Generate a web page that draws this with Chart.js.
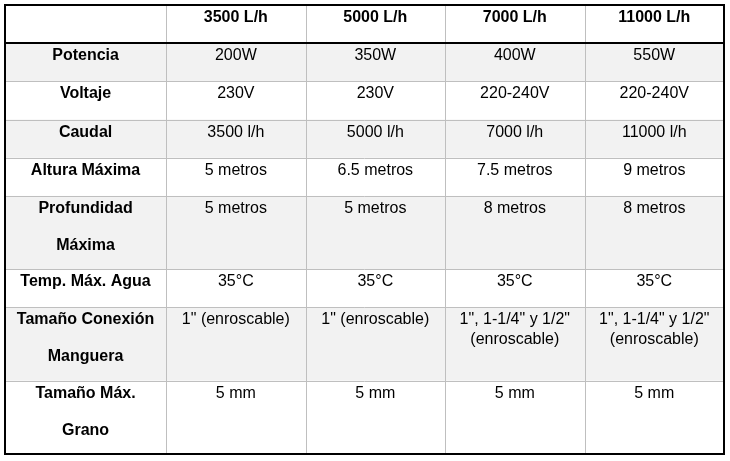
<!DOCTYPE html>
<html>
<head>
<meta charset="utf-8">
<script src="https://cdn.jsdelivr.net/npm/chart.js@4.4.1/dist/chart.umd.min.js"></script>
<style>
  body { margin: 0; background: #fff; }
  canvas { display: block; }
</style>
</head>
<body>
<canvas id="tablaBombas" width="730" height="461"></canvas>
<script>
// Datos de la tabla
const modelos = ["3500 L/h", "5000 L/h", "7000 L/h", "11000 L/h"];
const caracteristicas = [
  "Potencia",
  "Voltaje",
  "Caudal",
  "Altura Máxima",
  "Profundidad Máxima",
  "Temp. Máx. Agua",
  "Tamaño Conexión Manguera",
  "Tamaño Máx. Grano",
];
const bomba3500 = ["200W", "230V", "3500 l/h", "5 metros", "5 metros", "35°C", '1" (enroscable)', "5 mm"];
const bomba5000 = ["350W", "230V", "5000 l/h", "6.5 metros", "5 metros", "35°C", '1" (enroscable)', "5 mm"];
const bomba7000 = ["400W", "220-240V", "7000 l/h", "7.5 metros", "8 metros", "35°C", '1", 1-1/4" y 1/2" (enroscable)', "5 mm"];
const bomba11000 = ["550W", "220-240V", "11000 l/h", "9 metros", "8 metros", "35°C", '1", 1-1/4" y 1/2" (enroscable)', "5 mm"];
const columnas = [bomba3500, bomba5000, bomba7000, bomba11000];

// Layout
const FAMILIA = "'Liberation Sans', Arial, sans-serif";
const FUENTE = "16px " + FAMILIA;
const FUENTE_NEGRITA = "bold 16px " + FAMILIA;
const ANCHO_ETIQUETA = 1.155; // ancho de la primera columna, en unidades de columna
const PADDING = 8;
const ALTO_EXTRA = 0.92; // unidades de fila por cada linea extra de la etiqueta
const SALTO_ETIQUETA = 37;
const SALTO_VALOR = 20;
const BASE = 17;

const canvas = document.getElementById("tablaBombas");
const medir = canvas.getContext("2d");
const pxPorUnidadX = 719 / (ANCHO_ETIQUETA + modelos.length);

function partirTexto(texto, font, ancho) {
  medir.font = font;
  const palabras = texto.split(" ");
  const lineas = [];
  let actual = "";
  palabras.forEach((p) => {
    const prueba = actual ? actual + " " + p : p;
    if (actual && medir.measureText(prueba).width > ancho) {
      lineas.push(actual);
      actual = p;
    } else {
      actual = prueba;
    }
  });
  lineas.push(actual);
  return lineas;
}

const etiquetas = caracteristicas.map((c) =>
  partirTexto(c, FUENTE_NEGRITA, ANCHO_ETIQUETA * pxPorUnidadX - 2 * PADDING)
);

// bordes de filas (unidades del eje y)
const bordesFila = [0, 1];
etiquetas.forEach((l) => {
  bordesFila.push(bordesFila[bordesFila.length - 1] + 1 + (l.length - 1) * ALTO_EXTRA);
});
const bordesColumna = [0];
for (let i = 0; i <= modelos.length; i++) {
  bordesColumna.push(ANCHO_ETIQUETA + i);
}
const yMax = bordesFila[bordesFila.length - 1];
const xMax = bordesColumna[bordesColumna.length - 1];

const tablaPlugin = {
  id: "tabla",
  afterDraw(chart) {
    const { ctx, scales: { x, y } } = chart;
    const px = (v) => x.getPixelForValue(v);
    const py = (v) => y.getPixelForValue(v);
    const izq = px(0), der = px(xMax), arriba = py(0), abajo = py(yMax);

    ctx.save();
    // filas sombreadas
    ctx.fillStyle = "#f2f2f2";
    caracteristicas.forEach((c, i) => {
      if (i % 2 === 0) {
        const t = py(bordesFila[i + 1]);
        const b = py(bordesFila[i + 2]);
        ctx.fillRect(izq, t, der - izq, b - t);
      }
    });

    // lineas grises
    ctx.strokeStyle = "#bfbfbf";
    ctx.lineWidth = 1;
    ctx.beginPath();
    for (let i = 1; i < bordesColumna.length - 1; i++) {
      const xx = Math.round(px(bordesColumna[i])) + 0.5;
      ctx.moveTo(xx, arriba);
      ctx.lineTo(xx, abajo);
    }
    for (let i = 2; i < bordesFila.length - 1; i++) {
      const yy = Math.round(py(bordesFila[i])) + 0.5;
      ctx.moveTo(izq, yy);
      ctx.lineTo(der, yy);
    }
    ctx.stroke();

    // linea de encabezado y borde exterior
    ctx.strokeStyle = "#000";
    ctx.lineWidth = 2;
    ctx.beginPath();
    const yEnc = Math.round(py(bordesFila[1]));
    ctx.moveTo(izq, yEnc);
    ctx.lineTo(der, yEnc);
    ctx.stroke();
    ctx.strokeRect(Math.round(izq), Math.round(arriba), Math.round(der - izq), Math.round(abajo - arriba));

    // textos
    ctx.fillStyle = "#000";
    ctx.textAlign = "center";
    ctx.textBaseline = "alphabetic";
    const centroCol = (i) => (px(bordesColumna[i]) + px(bordesColumna[i + 1])) / 2;

    ctx.font = FUENTE_NEGRITA;
    modelos.forEach((m, j) => {
      ctx.fillText(m, centroCol(j + 1), arriba + BASE);
    });

    etiquetas.forEach((lineas, i) => {
      const top = py(bordesFila[i + 1]);
      ctx.font = FUENTE_NEGRITA;
      lineas.forEach((l, k) => {
        ctx.fillText(l, centroCol(0), top + BASE + k * SALTO_ETIQUETA);
      });
      ctx.font = FUENTE;
      columnas.forEach((col, j) => {
        const ancho = px(bordesColumna[j + 2]) - px(bordesColumna[j + 1]) - 2 * PADDING;
        const partes = partirTexto(col[i], FUENTE, ancho);
        ctx.font = FUENTE;
        partes.forEach((l, k) => {
          ctx.fillText(l, centroCol(j + 1), top + BASE + k * SALTO_VALOR);
        });
      });
    });
    ctx.restore();
  },
};

new Chart(canvas, {
  type: "scatter",
  data: { datasets: [] },
  options: {
    responsive: false,
    animation: false,
    devicePixelRatio: 1,
    layout: { padding: { left: 5, right: 6, top: 5, bottom: 7 } },
    scales: {
      x: { type: "linear", display: false, min: 0, max: xMax },
      y: { type: "linear", display: false, reverse: true, min: 0, max: yMax },
    },
    plugins: {
      legend: { display: false },
      tooltip: { enabled: false },
    },
  },
  plugins: [tablaPlugin],
});
</script>
</body>
</html>
